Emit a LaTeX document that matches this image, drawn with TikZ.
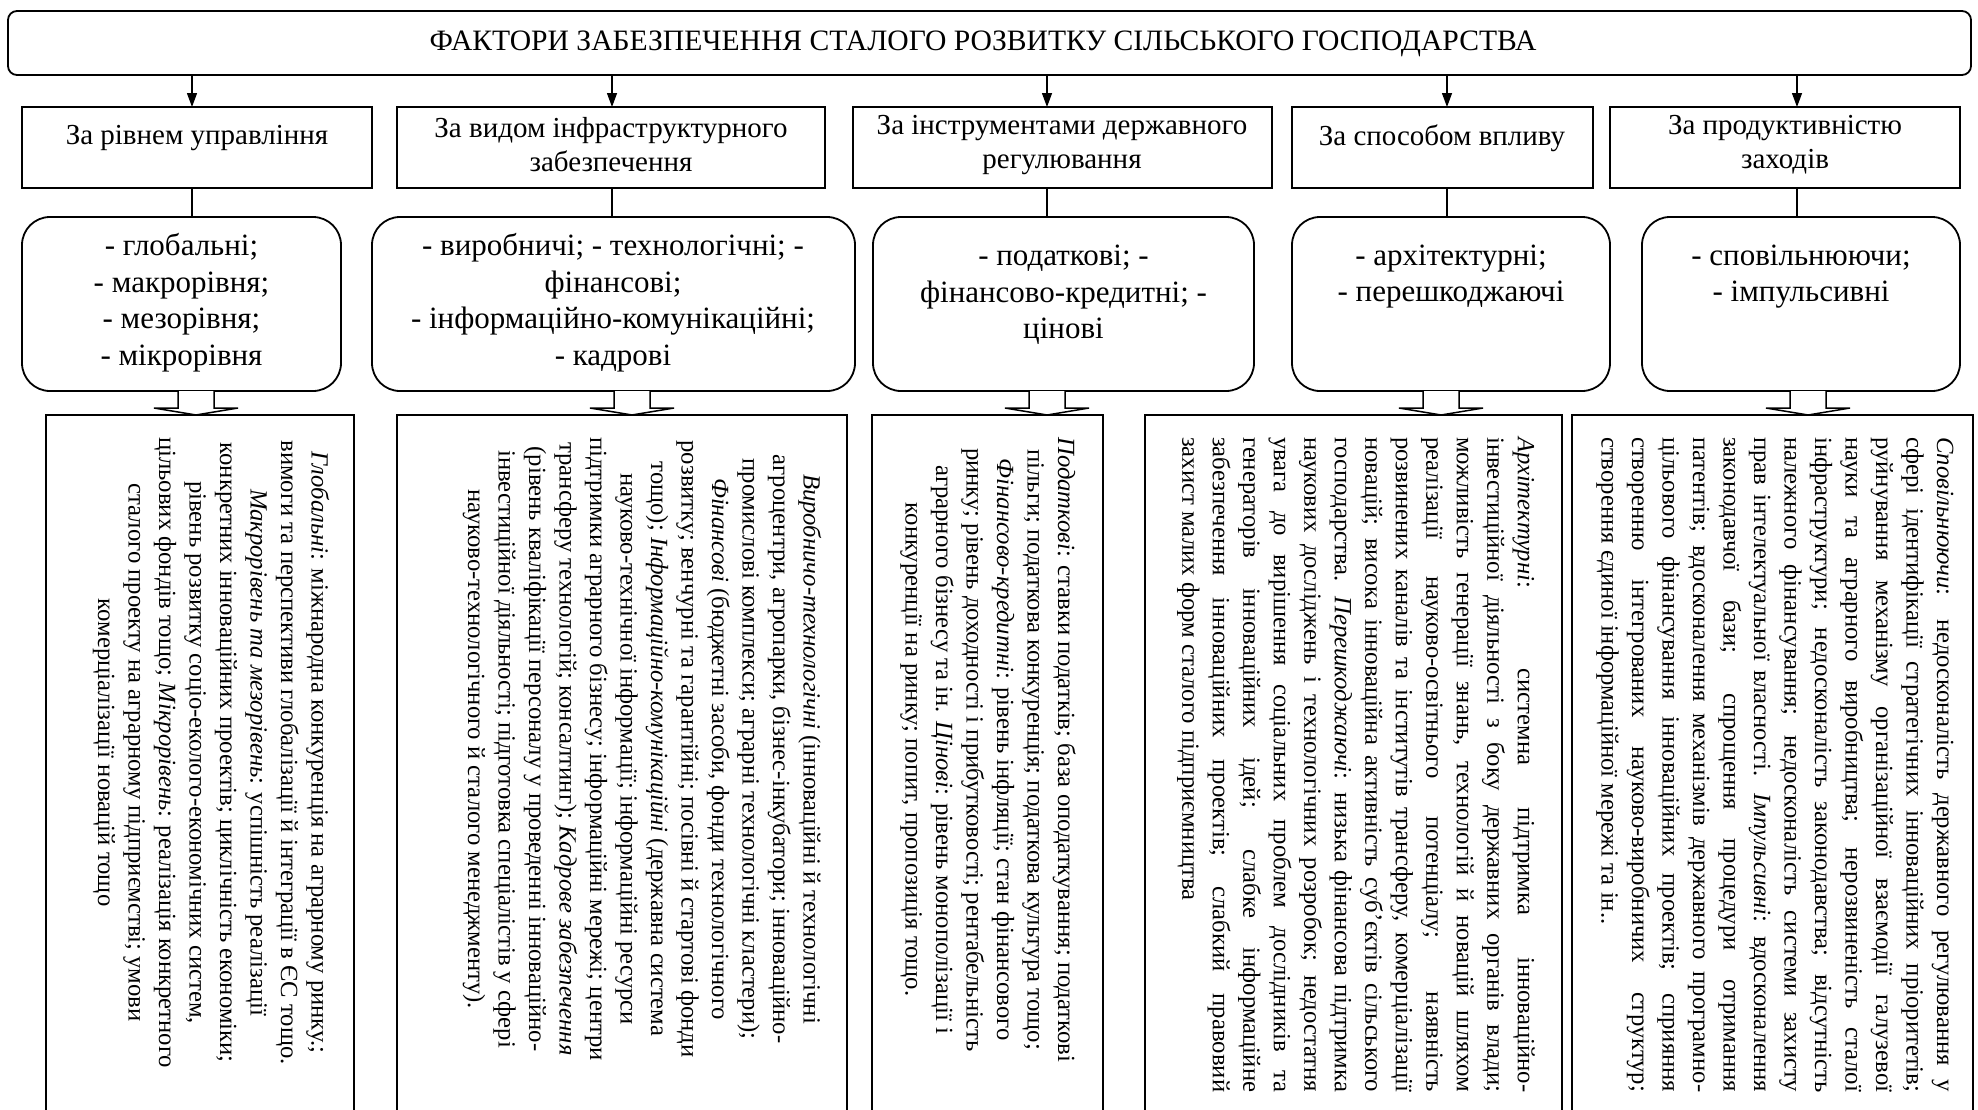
\documentclass[tikz,border=0pt]{standalone}
\usepackage{fontspec}
\setmainfont{Liberation Serif}
\usetikzlibrary{arrows.meta,calc}

\newlength\justw
\setlength\justw{655pt}
\newcommand\jline[1]{\makebox[\justw][s]{#1}\\}

\tikzset{
  frame/.style={draw, line width=1.8pt, outer sep=0pt, inner sep=0pt, anchor=north west},
  topbar/.style={frame, rounded corners=9pt},
  catbox/.style={frame},
  optbox/.style={frame, rounded corners=28pt},
  descbox/.style={frame},
  titletext/.style={inner sep=0pt, font=\fontsize{29.6}{34}\selectfont},
  cattext/.style={align=center, inner sep=0pt, font=\fontsize{29}{34}\selectfont},
  opttext/.style={align=center, inner sep=0pt, font=\fontsize{31}{36.5}\selectfont},
  desctext/.style={rotate=-90, anchor=west, align=center, inner sep=0pt,
                   font=\fontsize{24.7}{30.5}\selectfont},
  descjust/.style={desctext, align=left},
  feed/.style={-{Triangle[length=14pt,width=10pt]}, line width=1.3pt},
  link/.style={line width=1.3pt},
  blockarr/.style={draw, fill=white, line width=1.5pt, line join=miter},
}

% hollow block arrow: #1 = column coordinate, #2 = upper node, #3 = lower node
\newcommand\blockarrow[3]{%
  \draw[blockarr]
    ($(#1 |- #2.south)+(-18,0)$) -- ($(#1 |- #3.north)+(-18,-7)$) --
    ($(#1 |- #3.north)+(-42,-7)$) -- (#1 |- #3.north) --
    ($(#1 |- #3.north)+(42,-7)$) -- ($(#1 |- #3.north)+(18,-7)$) --
    ($(#1 |- #2.south)+(18,0)$);
}

\begin{document}
\begin{tikzpicture}[x=1pt, y=-1pt]
\useasboundingbox (0,0) rectangle (1978,1109);
\clip (0,0) rectangle (1978,1109);

% column positions
\coordinate (k1) at (192,0);
\coordinate (k2) at (612,0);
\coordinate (k3) at (1047,0);
\coordinate (k4) at (1447,0);
\coordinate (k5) at (1797,0);
\coordinate (b1) at (196,0);
\coordinate (b2) at (632,0);
\coordinate (b3) at (1047,0);
\coordinate (b4) at (1441,0);
\coordinate (b5) at (1808,0);

% title bar
\node[topbar, minimum width=1963pt, minimum height=64pt] (top) at (8,11) {};
\node[titletext] (title) at (983,44) {ФАКТОРИ ЗАБЕЗПЕЧЕННЯ СТАЛОГО РОЗВИТКУ СІЛЬСЬКОГО ГОСПОДАРСТВА};

% classification criteria
\node[catbox, minimum width=350pt, minimum height=81pt] (c1) at (22,107) {};
\node[catbox, minimum width=428pt, minimum height=81pt] (c2) at (397,107) {};
\node[catbox, minimum width=419pt, minimum height=81pt] (c3) at (853,107) {};
\node[catbox, minimum width=301pt, minimum height=81pt] (c4) at (1292,107) {};
\node[catbox, minimum width=350pt, minimum height=81pt] (c5) at (1610,107) {};

\node[cattext] (c1t) at (197,138) {За рівнем управління};
\node[cattext] (c2t) at (611,145) {За видом інфраструктурного\\забезпечення};
\node[cattext] (c3t) at (1062,145) {За інструментами державного\\регулювання};
\node[cattext] (c4t) at (1442,138) {За способом впливу};
\node[cattext] (c5t) at (1785,145) {За продуктивністю\\заходів};

% factor groups
\node[optbox, minimum width=319pt, minimum height=174pt] (o1) at (22,217) {};
\node[optbox, minimum width=483pt, minimum height=174pt] (o2) at (372,217) {};
\node[optbox, minimum width=381pt, minimum height=174pt] (o3) at (873,217) {};
\node[optbox, minimum width=318pt, minimum height=174pt] (o4) at (1292,217) {};
\node[optbox, minimum width=318pt, minimum height=174pt] (o5) at (1642,217) {};

\node[opttext] (o1t) at (181.5,302.5) {- глобальні;\\- макрорівня;\\- мезорівня;\\- мікрорівня};
\node[opttext] (o2t) at (613,302.5) {- виробничі; - технологічні; -\\фінансові;\\- інформаційно-комунікаційні;\\- кадрові};
\node[opttext] (o3t) at (1063.5,295) {- податкові; -\\фінансово-кредитні; -\\цінові};
\node[opttext] (o4t) at (1451,276.5) {- архітектурні;\\- перешкоджаючі};
\node[opttext] (o5t) at (1801,276.5) {- сповільнюючи;\\- імпульсивні};

% descriptions
\node[descbox, minimum width=308pt, minimum height=720pt] (d1) at (46,415) {};
\node[descbox, minimum width=450pt, minimum height=720pt] (d2) at (397,415) {};
\node[descbox, minimum width=231pt, minimum height=720pt] (d3) at (872,415) {};
\node[descbox, minimum width=417pt, minimum height=720pt] (d4) at (1145,415) {};
\node[descbox, minimum width=401pt, minimum height=720pt] (d5) at (1572,415) {};

\node[desctext] (d1t) at (211,437) {%
\textit{Глобальні}: міжнародна конкуренція на аграрному ринку.;\\
вимоги та перспективи глобалізації й інтеграції в ЄС тощо.\\
\textit{Макрорівень та мезорівень}: успішність реалізації\\
конкретних інноваційних проектів; циклічність економіки;\\
рівень розвитку соціо-еколого-економічних систем,\\
цільових фондів тощо; \textit{Мікрорівень}: реалізація конкретного\\
сталого проекту на аграрному підприємстві; умови\\
комерціалізації новацій тощо};

\node[desctext] (d2t) at (642,437) {%
\textit{Виробничо-технологічні} (інноваційні й технологічні\\
агроцентри, агропарки, бізнес-інкубатори; інноваційно-\\
промислові комплекси; аграрні технологічні кластери);\\
\textit{Фінансові} (бюджетні засоби, фонди технологічного\\
розвитку; венчурні та гарантійні; посівні й стартові фонди\\
тощо); \textit{Інформаційно-комунікаційні} (державна система\\
науково-технічної інформації; інформаційні ресурси\\
підтримки аграрного бізнесу; інформаційні мережі; центри\\
трансферу технологій; консалтинг); \textit{Кадрове забезпечення}\\
(рівень кваліфікації персоналу у проведенні інноваційно-\\
інвестиційної діяльності; підготовка спеціалістів у сфері\\
науково-технологічного й сталого менеджменту).};

\node[desctext] (d3t) at (988,437) {%
\textit{Податкові}: ставки податків; база оподаткування; податкові\\
пільги; податкова конкуренція; податкова культура тощо;\\
\textit{Фінансово-кредитні}: рівень інфляції; стан фінансового\\
ринку; рівень доходності і прибутковості; рентабельність\\
аграрного бізнесу та ін. \textit{Цінові}: рівень монополізації і\\
конкуренції на ринку; попит, пропозиція тощо.};

\node[descjust] (d4t) at (1356,437) {%
\jline{\textit{Архітектурні}: системна підтримка інноваційно-}
\jline{інвестиційної діяльності з боку державних органів влади;}
\jline{можливість генерації знань, технологій й новацій шляхом}
\jline{реалізації науково-освітнього потенціалу; наявність}
\jline{розвинених каналів та інститутів трансферу, комерціалізації}
\jline{новацій; висока інноваційна активність суб’єктів сільського}
\jline{господарства. \textit{Перешкоджаючі}: низька фінансова підтримка}
\jline{наукових досліджень і технологічних розробок; недостатня}
\jline{увага до вирішення соціальних проблем дослідників та}
\jline{генераторів інноваційних ідей; слабке інформаційне}
\jline{забезпечення інноваційних проектів; слабкий правовий}
захист малих форм сталого підприємництва};

\node[descjust] (d5t) at (1775,437) {%
\jline{\textit{Сповільнюючи}: недосконалість державного регулювання у}
\jline{сфері ідентифікації стратегічних інноваційних пріоритетів;}
\jline{руйнування механізму організаційної взаємодії галузевої}
\jline{науки та аграрного виробництва; нерозвиненість сталої}
\jline{інфраструктури; недосконалість законодавства; відсутність}
\jline{належного фінансування; недосконалість системи захисту}
\jline{прав інтелектуальної власності. \textit{Імпульсивні}: вдосконалення}
\jline{законодавчої бази; спрощення процедури отримання}
\jline{патентів; вдосконалення механізмів державного програмно-}
\jline{цільового фінансування інноваційних проектів; сприяння}
\jline{створенню інтегрованих науково-виробничих структур;}
створення єдиної інформаційної мережі та ін..};

% connectors
\foreach \i in {1,...,5} {
  \draw[feed] (k\i |- top.south) -- (k\i |- c\i.north);
  \draw[link] (k\i |- c\i.south) -- (k\i |- o\i.north);
}
\blockarrow{b1}{o1}{d1}
\blockarrow{b2}{o2}{d2}
\blockarrow{b3}{o3}{d3}
\blockarrow{b4}{o4}{d4}
\blockarrow{b5}{o5}{d5}
\end{tikzpicture}
\end{document}
